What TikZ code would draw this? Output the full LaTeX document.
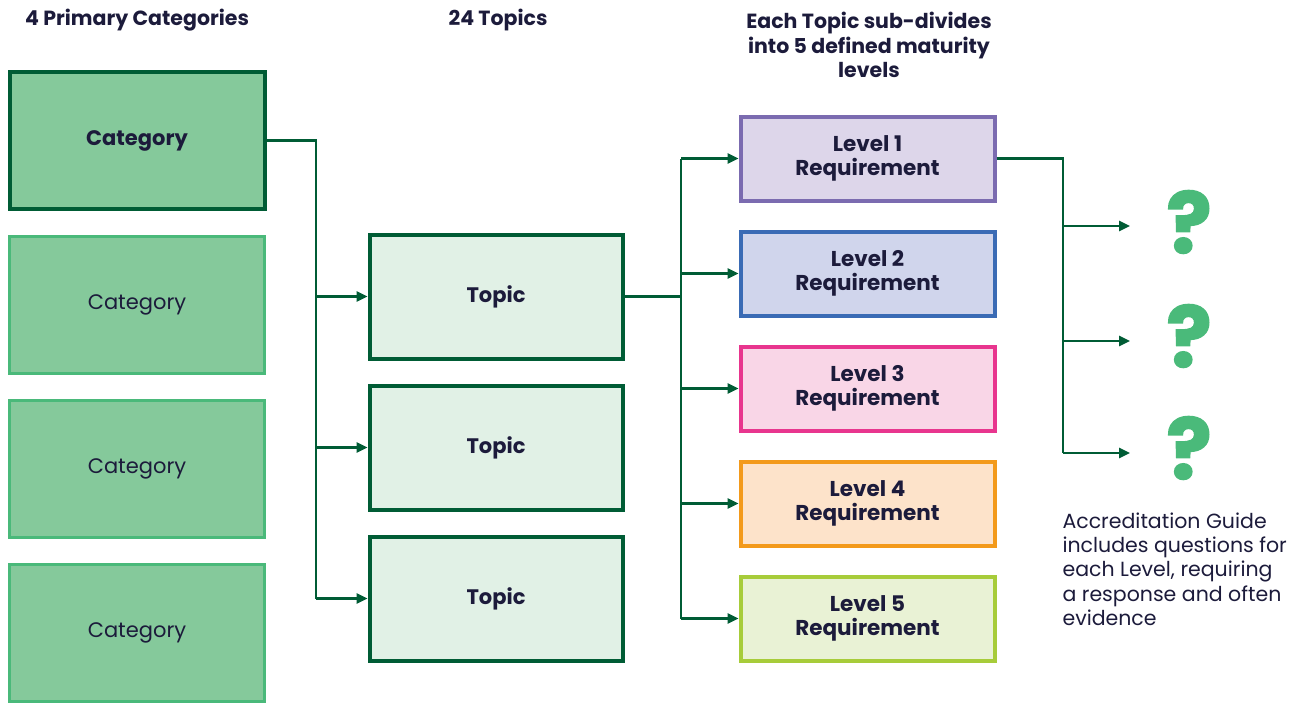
\documentclass[tikz,border=0pt]{standalone}
\usepackage{fontspec}
\setmainfont{Poppins}
\newfontfamily\qfont[FakeBold=2]{Poppins Bold}
\usetikzlibrary{arrows.meta}
\definecolor{dkgreen}{HTML}{005C35}
\definecolor{midgreen}{HTML}{4AB97A}
\definecolor{catfill}{HTML}{85C99B}
\definecolor{topfill}{HTML}{E1F1E6}
\definecolor{txt}{HTML}{1C1B3B}
\definecolor{purp}{HTML}{7B6BB0}\definecolor{purpf}{HTML}{DDD6EA}
\definecolor{blu}{HTML}{3A6BB5}\definecolor{bluf}{HTML}{D0D5EC}
\definecolor{pnk}{HTML}{E8358E}\definecolor{pnkf}{HTML}{F9D6E7}
\definecolor{org}{HTML}{F39A1B}\definecolor{orgf}{HTML}{FDE3CA}
\definecolor{lim}{HTML}{A7CC3A}\definecolor{limf}{HTML}{E9F2D5}
\definecolor{qgreen}{HTML}{4ABA7A}
\tikzset{
  box/.style={draw, rectangle, inner sep=0pt, text=txt, align=center, font=\fontsize{21}{23}\selectfont},
  catbox/.style={box, fill=catfill, draw=midgreen, line width=3.5pt, minimum width=255pt, minimum height=137pt},
  topicbox/.style={box, fill=topfill, draw=dkgreen, line width=4pt, minimum width=253pt, minimum height=124pt, font=\fontsize{21}{23}\selectfont\bfseries},
  lvlbox/.style={box, line width=4pt, minimum width=254pt, minimum height=84pt, font=\fontsize{21.5}{23.5}\selectfont\bfseries},
  conn/.style={draw=dkgreen, line width=2.5pt},
  arr/.style={conn, -{Triangle[length=11pt,width=10pt]}},
  hdr/.style={text=txt, align=center, font=\fontsize{20.5}{24.5}\selectfont\bfseries},
  qm/.style={text=qgreen, font=\qfont\fontsize{84}{84}\selectfont},
}
\begin{document}
\begin{tikzpicture}[x=1pt,y=-1pt]
\useasboundingbox (0,0) rectangle (1299,704);
% headers
\node[hdr] (h1) at (137,20) {4 Primary Categories};
\node[hdr] (h2) at (498,20) {24 Topics};
\node[hdr] (h3) at (869,45) {Each Topic sub-divides\\into 5 defined maturity\\levels};
% categories
\node[catbox, draw=dkgreen, line width=4pt, font=\fontsize{21}{23}\selectfont\bfseries] (c1) at (137,140.5) {Category};
\node[catbox] (c2) at (137,305) {Category};
\node[catbox] (c3) at (137,469) {Category};
\node[catbox] (c4) at (137,633) {Category};
% topics
\node[topicbox] (t1) at (496,296.5) {Topic};
\node[topicbox] (t2) at (496,447.5) {Topic};
\node[topicbox] (t3) at (496,598.5) {Topic};
% levels
\node[lvlbox, draw=purp, fill=purpf] (l1) at (867.5,158.5) {Level 1\\Requirement};
\node[lvlbox, draw=blu, fill=bluf] (l2) at (867.5,273.5) {Level 2\\Requirement};
\node[lvlbox, draw=pnk, fill=pnkf] (l3) at (867.5,388.5) {Level 3\\Requirement};
\node[lvlbox, draw=org, fill=orgf] (l4) at (867.5,503.5) {Level 4\\Requirement};
\node[lvlbox, draw=lim, fill=limf] (l5) at (867.5,618.5) {Level 5\\Requirement};
% question marks
\node[qm] (q1) at (1189,222) {?};
\node[qm] (q2) at (1189,336) {?};
\node[qm] (q3) at (1189,448) {?};
\coordinate (e1) at (1130,226);
\coordinate (e2) at (1130,341);
\coordinate (e3) at (1130,453);
% note
\node[text=txt, align=left, anchor=north west, font=\fontsize{20.5}{24.4}\selectfont] (note) at (1059,509) {Accreditation Guide\\includes questions for\\each Level, requiring\\a response and often\\evidence};
% connectors categories->topics
\coordinate (j1) at (316,140.5);
\draw[conn] (c1.east) -- (j1) -- (316,598.5);
\draw[arr] (316,296.5) -- (t1.west);
\draw[arr] (316,447.5) -- (t2.west);
\draw[arr] (316,598.5) -- (t3.west);
% topic -> levels
\coordinate (j2) at (681,296.5);
\draw[conn] (t1.east) -- (j2);
\draw[conn] (681,158.5) -- (681,618.5);
\draw[arr] (681,158.5) -- (l1.west);
\draw[arr] (681,273.5) -- (l2.west);
\draw[arr] (681,388.5) -- (l3.west);
\draw[arr] (681,503.5) -- (l4.west);
\draw[arr] (681,618.5) -- (l5.west);
% level1 -> questions
\coordinate (j3) at (1063,158.5);
\draw[conn] (l1.east) -- (j3) -- (1063,453);
\draw[arr] (1063,226) -- (e1);
\draw[arr] (1063,341) -- (e2);
\draw[arr] (1063,453) -- (e3);
\end{tikzpicture}
\end{document}
